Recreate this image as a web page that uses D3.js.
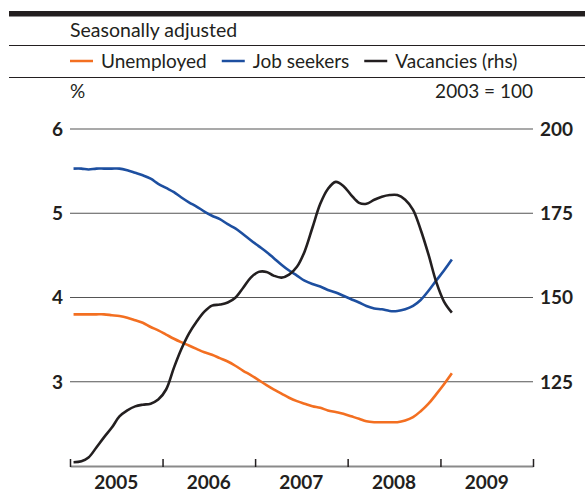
<!DOCTYPE html>
<html>
<head>
<meta charset="utf-8">
<script src="https://cdn.jsdelivr.net/npm/d3@7"></script>
<style>
  body { margin: 0; background: #fff; }
  svg { display: block; font-family: "Lato", "Open Sans", sans-serif; }
</style>
</head>
<body>
<svg class="chart" width="585" height="492"></svg>
<script>
// monthly, Jan 2005 - Feb 2009
var unemployed = [3.80, 3.80, 3.80, 3.80, 3.80, 3.79, 3.78, 3.76, 3.73, 3.70, 3.65, 3.61,
                  3.56, 3.51, 3.47, 3.43, 3.39, 3.35, 3.32, 3.28, 3.24, 3.19, 3.13, 3.08,
                  3.02, 2.96, 2.91, 2.86, 2.81, 2.77, 2.74, 2.71, 2.69, 2.66, 2.64, 2.62,
                  2.59, 2.56, 2.53, 2.52, 2.52, 2.52, 2.52, 2.54, 2.58, 2.65, 2.74, 2.85,
                  2.97, 3.10];
var jobSeekers = [5.53, 5.53, 5.52, 5.53, 5.53, 5.53, 5.53, 5.51, 5.48, 5.45, 5.41, 5.35,
                  5.30, 5.25, 5.19, 5.13, 5.08, 5.02, 4.97, 4.93, 4.87, 4.82, 4.75, 4.68,
                  4.61, 4.54, 4.47, 4.39, 4.32, 4.26, 4.20, 4.16, 4.13, 4.09, 4.06, 4.02,
                  3.98, 3.94, 3.90, 3.87, 3.86, 3.84, 3.84, 3.86, 3.90, 3.97, 4.08, 4.20,
                  4.32, 4.45];
var vacancies = [101.1, 101.4, 102.5, 105.5, 108.5, 111.4, 114.7, 116.5, 117.7, 118.2, 118.5, 119.7,
                 122.7, 129.2, 134.5, 139.3, 142.8, 145.8, 147.6, 147.9, 148.5, 149.9, 152.9, 155.9,
                 157.6, 157.6, 156.5, 155.9, 156.8, 159.1, 163.6, 170.7, 177.8, 182.2, 184.3, 183.1,
                 180.4, 178.1, 177.8, 179.0, 179.9, 180.4, 180.4, 179.0, 176.0, 170.1, 162.7, 154.7,
                 148.8, 145.5];
var months = d3.timeMonth.range(new Date(2005, 0, 1), new Date(2009, 2, 1));
var years = [2005, 2006, 2007, 2008, 2009];
var leftTicks = [3, 4, 5, 6];
var rightTicks = [125, 150, 175, 200];
var legendItems = [
  {name: "Unemployed", color: "#f36f21"},
  {name: "Job seekers", color: "#1d4fa0"},
  {name: "Vacancies (rhs)", color: "#231f20"}
];

var svg = d3.select(".chart"),
    margin = {top: 129, right: 52, bottom: 26, left: 70},
    width = +svg.attr("width") - margin.left - margin.right,
    height = +svg.attr("height") - margin.top - margin.bottom;

var ink = "#231f20";

// header rules and texts
svg.append("rect").attr("x", 9).attr("y", 11).attr("width", 576).attr("height", 5.5).attr("fill", ink);
svg.append("line").attr("x1", 9).attr("x2", 585).attr("y1", 45.5).attr("y2", 45.5).attr("stroke", ink).attr("stroke-width", 1.2);
svg.append("line").attr("x1", 9).attr("x2", 585).attr("y1", 77.5).attr("y2", 77.5).attr("stroke", ink).attr("stroke-width", 1.2);

svg.append("text").attr("x", 70).attr("y", 37).attr("font-size", 19.5).attr("fill", ink).text("Seasonally adjusted");
svg.append("text").attr("x", 70).attr("y", 98).attr("font-size", 19).attr("fill", ink).text("%");
svg.append("text").attr("x", 533).attr("y", 98).attr("font-size", 19).attr("fill", ink)
    .style("text-anchor", "end").text("2003 = 100");

// legend
var lx = 70;
legendItems.forEach(function(d) {
  svg.append("line").attr("x1", lx).attr("x2", lx + 23).attr("y1", 61).attr("y2", 61)
      .attr("stroke", d.color).attr("stroke-width", 2.5);
  var t = svg.append("text").attr("x", lx + 31).attr("y", 68).attr("font-size", 19).attr("fill", ink).text(d.name);
  lx = lx + 31 + t.node().getComputedTextLength() + 15;
});

var g = svg.append("g")
    .attr("transform", "translate(" + margin.left + "," + margin.top + ")");

var x = d3.scaleTime().domain([new Date(2005, 0, 1), new Date(2010, 0, 1)]).range([0, width]);
var yL = d3.scaleLinear().domain([2, 6]).range([height, 0]);
var yR = d3.scaleLinear().domain([100, 200]).range([height, 0]);

// gridlines
g.selectAll(".grid")
    .data(leftTicks)
  .enter().append("line")
    .attr("class", "grid")
    .attr("x1", 0).attr("x2", width)
    .attr("y1", function(d) { return yL(d); })
    .attr("y2", function(d) { return yL(d); })
    .attr("stroke", "#555").attr("stroke-width", 1.2);

// left labels
g.selectAll(".lt")
    .data(leftTicks)
  .enter().append("text")
    .attr("class", "lt")
    .attr("x", -7)
    .attr("y", function(d) { return yL(d); })
    .attr("dy", "0.36em")
    .attr("font-size", 19).attr("font-weight", "bold").attr("fill", ink)
    .style("text-anchor", "end")
    .text(function(d) { return d; });

// right labels
g.selectAll(".rt")
    .data(rightTicks)
  .enter().append("text")
    .attr("class", "rt")
    .attr("x", width + 7)
    .attr("y", function(d) { return yR(d); })
    .attr("dy", "0.36em")
    .attr("font-size", 19).attr("font-weight", "bold").attr("fill", ink)
    .text(function(d) { return d; });

// x axis
var xAxis = g.append("g")
    .attr("class", "x axis")
    .attr("transform", "translate(0," + height + ")")
    .call(d3.axisBottom(x).ticks(d3.timeYear.every(1)).tickSizeInner(-7).tickSizeOuter(0).tickFormat(""));
xAxis.select(".domain").attr("stroke", "#8a8a8a").attr("stroke-width", 2);
xAxis.selectAll(".tick line").attr("stroke", ink).attr("stroke-width", 1.5).attr("y2", -7).attr("y1", 1);

g.selectAll(".yr")
    .data(years)
  .enter().append("text")
    .attr("class", "yr")
    .attr("x", function(d) { return (x(new Date(d, 0, 1)) + x(new Date(d + 1, 0, 1))) / 2; })
    .attr("y", height + 22.5)
    .attr("font-size", 19).attr("font-weight", "bold").attr("fill", ink)
    .style("text-anchor", "middle")
    .text(function(d) { return d; });

// series
function mid(m) { return new Date(m.getFullYear(), m.getMonth(), 15); }

var lineL = d3.line()
    .x(function(d, i) { return x(mid(months[i])); })
    .y(function(d) { return yL(d); })
    .curve(d3.curveCatmullRom.alpha(0.5));
var lineR = d3.line()
    .x(function(d, i) { return x(mid(months[i])); })
    .y(function(d) { return yR(d); })
    .curve(d3.curveCatmullRom.alpha(0.5));

g.append("path").datum(unemployed).attr("d", lineL)
    .attr("fill", "none").attr("stroke", legendItems[0].color).attr("stroke-width", 2.6);
g.append("path").datum(jobSeekers).attr("d", lineL)
    .attr("fill", "none").attr("stroke", legendItems[1].color).attr("stroke-width", 2.6);
g.append("path").datum(vacancies).attr("d", lineR)
    .attr("fill", "none").attr("stroke", legendItems[2].color).attr("stroke-width", 2.6);
</script>
</body>
</html>
